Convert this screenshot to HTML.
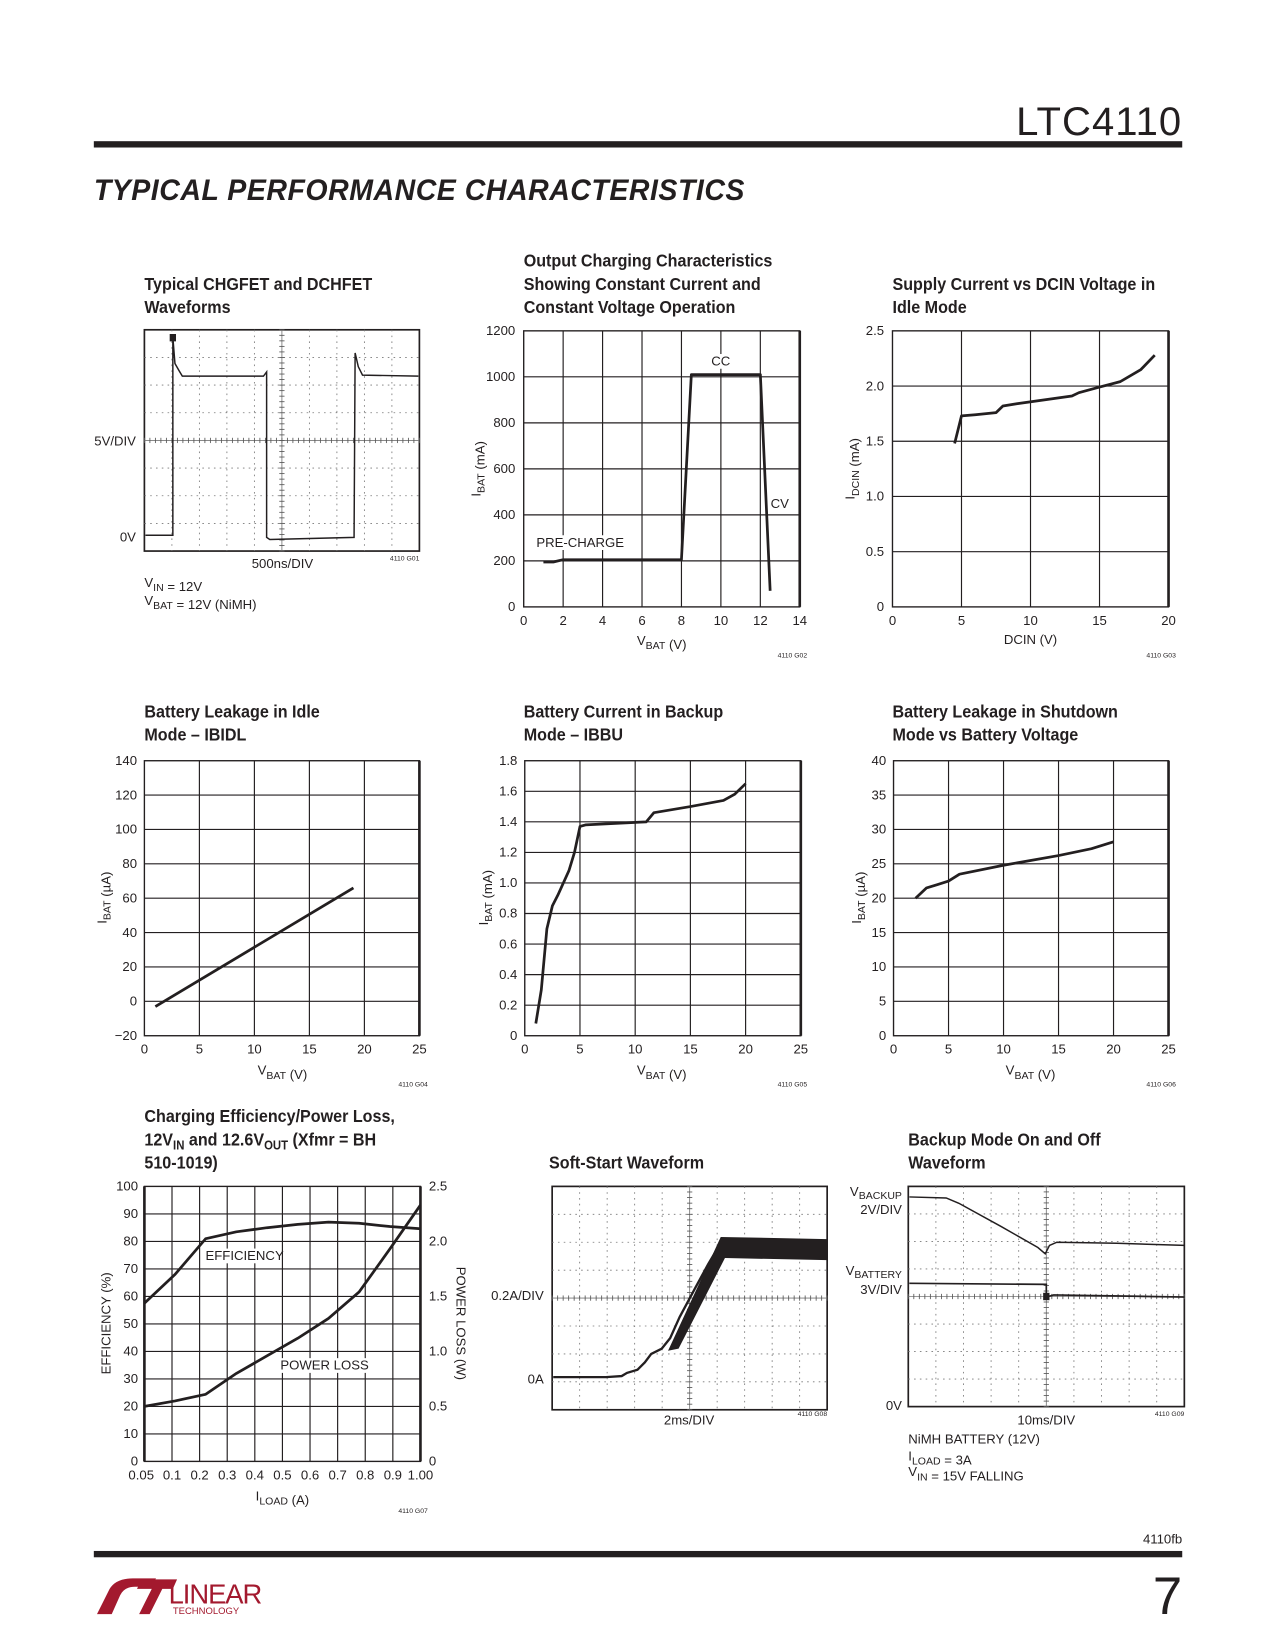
<!DOCTYPE html>
<html><head><meta charset="utf-8">
<style>
html,body{margin:0;padding:0;background:#fff;}
svg{display:block;}
text{font-family:"Liberation Sans Narrow","Liberation Sans",sans-serif;fill:#231f20;}
.t{font-weight:bold;font-size:17px;}
.k{font-size:12.5px;}
.s{font-size:6.5px;}
</style></head>
<body>
<svg id="pg" width="1275" height="1650" viewBox="0 0 1210 1566" xmlns="http://www.w3.org/2000/svg">
<text x="1122" y="128" text-anchor="end" style="font-family:'Liberation Sans',sans-serif;font-size:38px;font-weight:300;letter-spacing:1px">LTC4110</text>
<rect x="89" y="134" width="1033" height="6" fill="#231f20"/>
<text x="89" y="190" style="font-family:'Liberation Sans',sans-serif;font-size:28px;font-weight:900;font-style:italic;letter-spacing:0.5px" textLength="618" lengthAdjust="spacingAndGlyphs">TYPICAL PERFORMANCE CHARACTERISTICS</text>
<rect x="89" y="1472" width="1033" height="6" fill="#231f20"/>
<text x="1122" y="1465" text-anchor="end" class="k">4110fb</text>
<text x="1122" y="1532" text-anchor="end" style="font-family:'Liberation Sans',sans-serif;font-size:50px;font-weight:300">7</text>
<g>
<path d="M92,1532 L104,1508 Q110,1498 126,1498 L148,1498 L144,1506 L128,1506 Q118,1506 114,1514 L106,1532 Z" fill="#a3192e"/>
<path d="M132,1532 L144,1508 L130,1508 L134,1499 L168,1499 L164,1508 L154,1508 L142,1532 Z" fill="#a3192e"/>
<text x="160" y="1522" style="font-family:'Liberation Sans',sans-serif;font-size:26px;fill:#a3192e;letter-spacing:-1px">LINEAR</text>
<text x="164" y="1532" style="font-family:'Liberation Sans',sans-serif;font-size:9px;fill:#a3192e">TECHNOLOGY</text>
</g>
<g id="charts"></g>
</svg>
<script>
// ---- chart data ----
const g2X=[1,1.5,2,8,8.5,12,12.5];
const g2Y=[195,195,205,205,1010,1010,70];
const g3X=[4.5,5,6,7.5,8,9,13,13.5,15,16.5,18,19];
const g3Y=[1.48,1.73,1.74,1.76,1.82,1.84,1.91,1.94,1.99,2.04,2.15,2.28];
const g4X=[1,19];
const g4Y=[-3,66];
const g5X=[1,1.5,2,2.5,3,4,4.5,5,5.5,11,11.7,15,18,19,20];
const g5Y=[0.08,0.3,0.7,0.85,0.92,1.08,1.2,1.37,1.38,1.4,1.46,1.5,1.54,1.58,1.65];
const g6X=[2,3,4,5,6,10,15,18,20];
const g6Y=[20,21.5,22,22.5,23.5,24.8,26.2,27.2,28.2];
const g7Cats=["0.05","0.1","0.2","0.3","0.4","0.5","0.6","0.7","0.8","0.9","1.00"];
const g7Eff=[57.5,68,81,83.5,85,86.2,87,86.6,85.4,84.6];
const g7Loss=[0.5,0.55,0.61,0.8,0.96,1.12,1.3,1.54,1.93,2.33];
const g2Ticks=[0,200,400,600,800,1000,1200];
const g3Ticks=["0","0.5","1.0","1.5","2.0","2.5"];
const g4Ticks=["\u221220","0","20","40","60","80","100","120","140"];
const g5Ticks=["0","0.2","0.4","0.6","0.8","1.0","1.2","1.4","1.6","1.8"];
const g6Ticks=["0","5","10","15","20","25","30","35","40"];
const g7Left=["0","10","20","30","40","50","60","70","80","90","100"];
const g7Right=["0","0.5","1.0","1.5","2.0","2.5"];

const NS="http://www.w3.org/2000/svg";
const root=document.getElementById('charts');
function el(tag,attrs,parent,txt){const e=document.createElementNS(NS,tag);for(const k in attrs)e.setAttribute(k,attrs[k]);if(txt!==undefined)e.textContent=txt;(parent||root).appendChild(e);return e;}
function grp(name){const g=el('g',{},root);


return g;}
function txt(g,x,y,s,cls,anchor,name){const t=el('text',{x:x,y:y,'class':cls||'k','text-anchor':anchor||'start'},g,s);


return t;}
function ttl(g,x,y,html){const t=el('text',{x:0,y:0,'class':'t',transform:`translate(${x},${y}) scale(0.9,1)`},g);t.innerHTML=html;

return t;}
function title(g,x,y,lines){lines.forEach((l,i)=>ttl(g,x,y+i*22,l));}
function grid(g,L,T,R,B,nx,ny){
  for(let i=1;i<nx;i++){const x=L+(R-L)*i/nx;el('line',{x1:x,y1:T,x2:x,y2:B,stroke:'#231f20','stroke-width':1.1},g);}
  for(let j=1;j<ny;j++){const y=T+(B-T)*j/ny;el('line',{x1:L,y1:y,x2:R,y2:y,stroke:'#231f20','stroke-width':1.1},g);}
  el('rect',{x:L,y:T,width:R-L,height:B-T,fill:'none',stroke:'#231f20','stroke-width':1.3},g);
  el('line',{x1:R,y1:T,x2:R,y2:B,stroke:'#231f20','stroke-width':2.5},g);
}
function line(g,xs,ys,sx,sy,name){let d='';xs.forEach((v,i)=>{d+=(i?'L':'M')+sx(v).toFixed(1)+','+sy(ys[i]).toFixed(1);});
const p=el('path',{d:d,fill:'none',stroke:'#231f20','stroke-width':2.6,'stroke-linejoin':'round'},g);

}
function xy(L,T,R,B,x0,x1,y0,y1){return [v=>L+(v-x0)/(x1-x0)*(R-L), v=>B-(v-y0)/(y1-y0)*(B-T)];}
function ytitle(g,x,y,html,rot){const t=el('text',{x:0,y:0,'class':'k',transform:`translate(${x},${y}) rotate(${rot||-90})`,'text-anchor':'middle'},g);t.innerHTML=html;

}
function bglabel(g,x,y,w,s,anchor,name){el('rect',{x:anchor=='middle'?x-w/2:x-2,y:y-11,width:w,height:14,fill:'#fff'},g);return txt(g,x,y,s,'k',anchor,name);}
const sub=(a,b)=>`${a}<tspan dy="4" font-size="10">${b}</tspan><tspan dy="-4"></tspan>`;

function scope(g,L,T,R,B){
  el('rect',{x:L,y:T,width:R-L,height:B-T,fill:'#fff',stroke:'#231f20','stroke-width':1.6},g);
  for(let i=1;i<10;i++){const x=L+(R-L)*i/10;el('line',{x1:x,y1:T,x2:x,y2:B,stroke:'#777','stroke-width':0.8,'stroke-dasharray':i==5?'none':'1.5,4'},g);}
  for(let j=1;j<8;j++){const y=T+(B-T)*j/8;el('line',{x1:L,y1:y,x2:R,y2:y,stroke:'#777','stroke-width':0.8,'stroke-dasharray':j==4?'none':'1.5,4'},g);}
  const cx=(L+R)/2,cy=(T+B)/2;
  for(let i=0;i<=50;i++){const x=L+(R-L)*i/50;el('line',{x1:x,y1:cy-2.5,x2:x,y2:cy+2.5,stroke:'#555','stroke-width':0.8},g);}
  for(let j=0;j<=40;j++){const y=T+(B-T)*j/40;el('line',{x1:cx-2.5,y1:y,x2:cx+2.5,y2:y,stroke:'#555','stroke-width':0.8},g);}
}

// ---- G01 scope ----
(function(){const g=grp('chgfet-dchfet-waveform-chart');
title(g,137,275,['Typical CHGFET and DCHFET','Waveforms']);
scope(g,137,313,398,523);
const p=el('path',{d:'M138,508 L164,508 L164,320 L166,345 L170,352 L173,357 L250,357 L253,353 L253,510 L256,512 L336,510 L337,335 L340,348 L344,356 L397,357',fill:'none',stroke:'#231f20','stroke-width':1.4},g);

el('rect',{x:161,y:317,width:6,height:7,fill:'#231f20'},g);
txt(g,129,423,'5V/DIV','k','end','y-scale-label');txt(g,129,514,'0V','k','end','zero-label');
txt(g,268,539,'500ns/DIV','k','middle','x-scale-label');txt(g,398,532,'4110 G01','s','end','figure-id');
const a=txt(g,137,557,'','k');a.innerHTML=sub('V','IN')+' = 12V';
const b=txt(g,137,574,'','k');b.innerHTML=sub('V','BAT')+' = 12V (NiMH)';
})();

// ---- G02 ----
(function(){const g=grp('charging-characteristics-chart');
const L=497,T=314,R=759,B=576;title(g,497,253,['Output Charging Characteristics','Showing Constant Current and','Constant Voltage Operation']);
grid(g,L,T,R,B,7,6);const [sx,sy]=xy(L,T,R,B,0,14,0,1200);
g2Ticks.forEach(v=>txt(g,L-8,sy(v)+4,String(v),'k','end','y-tick'));
for(let v=0;v<=14;v+=2)txt(g,sx(v),593,String(v),'k','middle','x-tick');
line(g,g2X,g2Y,sx,sy,'ibat-curve');
bglabel(g,684,347,20,'CC','middle','cc-label');bglabel(g,740,482,20,'CV','middle','cv-label');bglabel(g,509,519,86,'PRE-CHARGE','start','precharge-label');
const xt=txt(g,628,612,'','k','middle','x-axis-title');xt.innerHTML=sub('V','BAT')+' (V)';
ytitle(g,456,445,sub('I','BAT')+' (mA)');txt(g,766,624,'4110 G02','s','end','figure-id');
})();

// ---- G03 ----
(function(){const g=grp('supply-current-chart');
const L=847,T=314,R=1109,B=576;title(g,847,275,['Supply Current vs DCIN Voltage in','Idle Mode']);
grid(g,L,T,R,B,4,5);const [sx,sy]=xy(L,T,R,B,0,20,0,2.5);
g3Ticks.forEach((s,i)=>txt(g,L-8,sy(i*0.5)+4,s,'k','end','y-tick'));
for(let v=0;v<=20;v+=5)txt(g,sx(v),593,String(v),'k','middle','x-tick');
line(g,g3X,g3Y,sx,sy,'idcin-curve');
txt(g,978,611,'DCIN (V)','k','middle','x-axis-title');
ytitle(g,811,445,sub('I','DCIN')+' (mA)');txt(g,1116,624,'4110 G03','s','end','figure-id');
})();

// ---- G04 ----
(function(){const g=grp('battery-leakage-idle-chart');
const L=137,T=722,R=398,B=983;title(g,137,681,['Battery Leakage in Idle','Mode \u2013 IBIDL']);
grid(g,L,T,R,B,5,8);const [sx,sy]=xy(L,T,R,B,0,25,-20,140);
g4Ticks.forEach((s,i)=>txt(g,L-7,sy(-20+i*20)+4,s,'k','end','y-tick'));
for(let v=0;v<=25;v+=5)txt(g,sx(v),1000,String(v),'k','middle','x-tick');
line(g,g4X,g4Y,sx,sy,'ibat-line');
const xt=txt(g,268,1020,'','k','middle','x-axis-title');xt.innerHTML=sub('V','BAT')+' (V)';
ytitle(g,101,852,sub('I','BAT')+' (\u00b5A)');txt(g,406,1031,'4110 G04','s','end','figure-id');
})();

// ---- G05 ----
(function(){const g=grp('battery-current-backup-chart');
const L=498,T=722,R=760,B=983;title(g,497,681,['Battery Current in Backup','Mode \u2013 IBBU']);
grid(g,L,T,R,B,5,9);const [sx,sy]=xy(L,T,R,B,0,25,0,1.8);
g5Ticks.forEach((s,i)=>txt(g,L-7,sy(i*0.2)+4,s,'k','end','y-tick'));
for(let v=0;v<=25;v+=5)txt(g,sx(v),1000,String(v),'k','middle','x-tick');
line(g,g5X,g5Y,sx,sy,'ibat-curve');
const xt=txt(g,628,1020,'','k','middle','x-axis-title');xt.innerHTML=sub('V','BAT')+' (V)';
ytitle(g,463,852,sub('I','BAT')+' (mA)');txt(g,766,1031,'4110 G05','s','end','figure-id');
})();

// ---- G06 ----
(function(){const g=grp('battery-leakage-shutdown-chart');
const L=848,T=722,R=1109,B=983;title(g,847,681,['Battery Leakage in Shutdown','Mode vs Battery Voltage']);
grid(g,L,T,R,B,5,8);const [sx,sy]=xy(L,T,R,B,0,25,0,40);
g6Ticks.forEach((s,i)=>txt(g,L-7,sy(i*5)+4,s,'k','end','y-tick'));
for(let v=0;v<=25;v+=5)txt(g,sx(v),1000,String(v),'k','middle','x-tick');
line(g,g6X,g6Y,sx,sy,'ibat-curve');
const xt=txt(g,978,1020,'','k','middle','x-axis-title');xt.innerHTML=sub('V','BAT')+' (V)';
ytitle(g,817,852,sub('I','BAT')+' (\u00b5A)');txt(g,1116,1031,'4110 G06','s','end','figure-id');
})();

// ---- G07 ----
(function(){const g=grp('efficiency-power-loss-chart');
const L=137,T=1126,R=399,B=1387;
ttl(g,137,1065,'Charging Efficiency/Power Loss,');
ttl(g,137,1087,'12V<tspan dy="4" font-size="12">IN</tspan><tspan dy="-4"> and 12.6V</tspan><tspan dy="4" font-size="12">OUT</tspan><tspan dy="-4"> (Xfmr = BH</tspan>');
ttl(g,137,1109,'510-1019)');
const n=g7Cats.length-1;grid(g,L,T,R,B,n,10);
el('line',{x1:L,y1:T,x2:L,y2:B,stroke:'#231f20','stroke-width':2.5},g);
const sx=i=>L+i/n*(R-L);const sy=v=>B-v/100*(B-T);const sr=v=>B-v/2.5*(B-T);
g7Left.forEach((s,i)=>txt(g,L-6,sy(i*10)+4,s,'k','end','y-tick'));
g7Right.forEach((s,i)=>txt(g,R+8,sr(i*0.5)+4,s,'k','start','y2-tick'));
g7Cats.forEach((s,i)=>txt(g,sx(i)+(i==0?-3:0),1404,s,'k','middle','x-tick'));
const idx=g7Eff.map((_,i)=>i*n/(g7Eff.length-1));
line(g,idx,g7Eff,sx,sy,'efficiency-curve');
line(g,idx,g7Loss.map(v=>v*40),sx,sy,'power-loss-curve');
bglabel(g,195,1196,74,'EFFICIENCY','start','efficiency-label');bglabel(g,266,1300,84,'POWER LOSS','start','power-loss-label');
const xt=txt(g,268,1424,'','k','middle','x-axis-title');xt.innerHTML=sub('I','LOAD')+' (A)';
ytitle(g,105,1256,'EFFICIENCY (%)');ytitle(g,433,1256,'POWER LOSS (W)',90);
txt(g,406,1436,'4110 G07','s','end','figure-id');
})();

// ---- G08 scope ----
(function(){const g=grp('soft-start-waveform-chart');
title(g,521,1109,['Soft-Start Waveform']);
scope(g,524,1126,785,1338);
const p=el('path',{d:'M525,1307 L575,1307 L590,1306 L595,1303 L605,1300 L612,1293 L618,1285 L628,1280 L636,1270 L645,1250 L660,1222 L672,1200 L685,1178',fill:'none',stroke:'#231f20','stroke-width':2.2},g);

const band=el('path',{d:'M634,1282 L684,1174 L785,1176 L785,1196 L688,1194 L644,1280 Z',fill:'#231f20'},g);

txt(g,516,1234,'0.2A/DIV','k','end','y-scale-label');txt(g,516,1313,'0A','k','end','zero-label');
txt(g,654,1352,'2ms/DIV','k','middle','x-scale-label');txt(g,785,1344,'4110 G08','s','end','figure-id');
})();

// ---- G09 scope ----
(function(){const g=grp('backup-mode-waveform-chart');
title(g,862,1087,['Backup Mode On and Off','Waveform']);
scope(g,862,1126,1124,1335);
const a=el('path',{d:'M863,1136 L898,1137 L910,1142 L950,1164 L985,1184 L992,1190 L996,1182 L1003,1179 L1060,1180 L1124,1182',fill:'none',stroke:'#231f20','stroke-width':1.4},g);

const b=el('path',{d:'M863,1218 L993,1219 L993,1231 L1000,1229 L1124,1231',fill:'none',stroke:'#231f20','stroke-width':1.6},g);

el('rect',{x:990,y:1227,width:6,height:7,fill:'#231f20'},g);
const l1=txt(g,856,1135,'','k','end','vbackup-label');l1.innerHTML='V<tspan dy="3" font-size="10">BACKUP</tspan>';txt(g,856,1152,'2V/DIV','k','end','vbackup-scale');
const l2=txt(g,856,1210,'','k','end','vbattery-label');l2.innerHTML='V<tspan dy="3" font-size="10">BATTERY</tspan>';txt(g,856,1228,'3V/DIV','k','end','vbattery-scale');
txt(g,856,1338,'0V','k','end','zero-label');
txt(g,993,1352,'10ms/DIV','k','middle','x-scale-label');txt(g,1124,1344,'4110 G09','s','end','figure-id');
txt(g,862,1370,'NiMH BATTERY (12V)','k','start','note');
const n2=txt(g,862,1386,'','k','start','note');n2.innerHTML=sub('I','LOAD')+' = 3A';
const n3=txt(g,862,1401,'','k','start','note');n3.innerHTML=sub('V','IN')+' = 15V FALLING';
})();
</script>
</body></html>
